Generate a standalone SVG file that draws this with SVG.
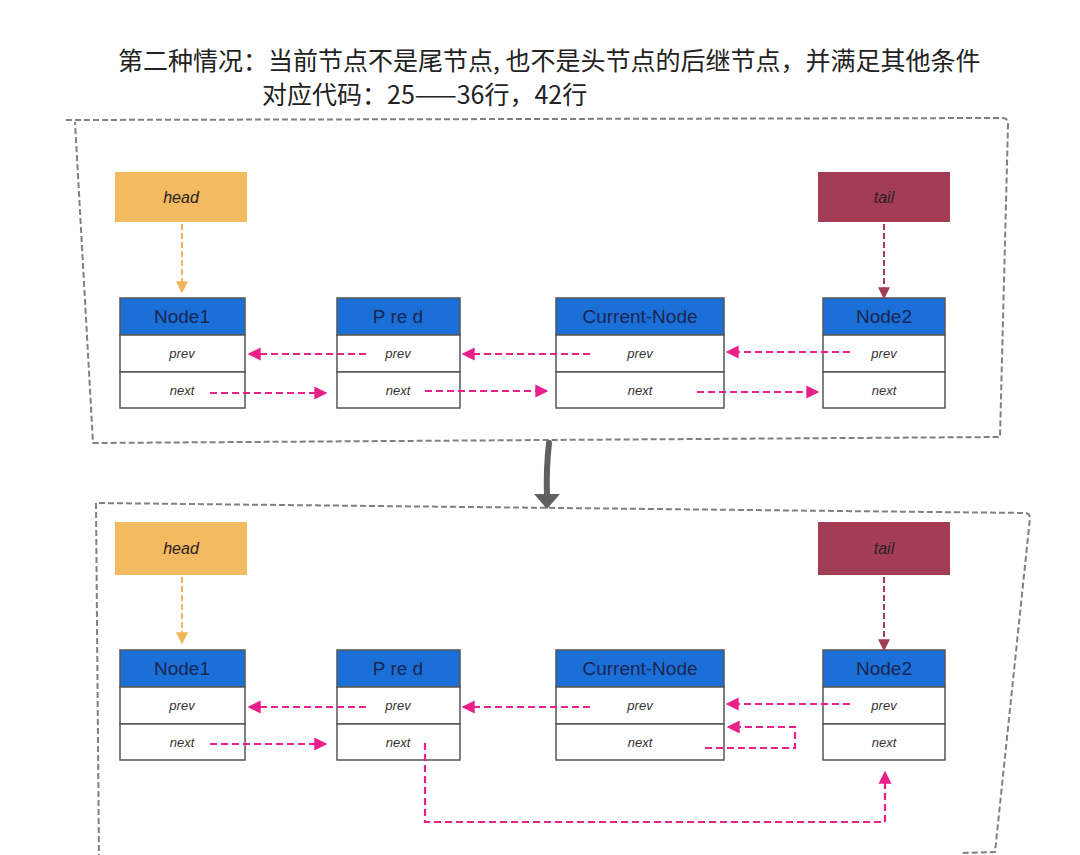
<svg xmlns="http://www.w3.org/2000/svg" width="1080" height="855" viewBox="0 0 1080 855">
<defs>
<style>
.frame{fill:none;stroke:#808080;stroke-width:2;stroke-dasharray:6 3}
.hdr{fill:#1b6fd9;stroke:#555;stroke-width:1.5}
.cell{fill:#fff;stroke:#555;stroke-width:1.5}
.nt{font-family:"Liberation Sans",sans-serif;font-size:19px;fill:#1a2550;text-anchor:middle}
.ft{font-family:"Liberation Sans",sans-serif;font-size:13px;font-style:italic;fill:#333;text-anchor:middle}
.pt{font-family:"Liberation Sans",sans-serif;font-size:16px;font-style:italic;fill:#2a2020;text-anchor:middle}
.title{font-family:"Noto Sans CJK SC",sans-serif;font-size:25px;fill:#222}
.pk{fill:none;stroke:#e8208a;stroke-width:2.2;stroke-dasharray:7 4;marker-end:url(#pa)}
.hd{fill:none;stroke:#f0b458;stroke-width:2;stroke-dasharray:6 3;marker-end:url(#ha)}
.tl{fill:none;stroke:#a23d55;stroke-width:2;stroke-dasharray:6 3;marker-end:url(#ta)}
</style>
<marker id="pa" viewBox="0 0 10 10" refX="9" refY="5" markerWidth="13" markerHeight="15" markerUnits="userSpaceOnUse" orient="auto"><path d="M0,0 L10,5 L0,10 Z" fill="#e8208a"/></marker>
<marker id="ha" viewBox="0 0 10 10" refX="9" refY="5" markerWidth="12" markerHeight="16" markerUnits="userSpaceOnUse" orient="auto"><path d="M0,0 L10,5 L0,10 Z" fill="#f0b458"/></marker>
<marker id="ta" viewBox="0 0 10 10" refX="9" refY="5" markerWidth="12" markerHeight="16" markerUnits="userSpaceOnUse" orient="auto"><path d="M0,0 L10,5 L0,10 Z" fill="#a23d55"/></marker>
</defs>
<rect width="1080" height="855" fill="#fff"/>
<g id="title">
<text class="title" x="118" y="70">第二种情况：当前节点不是尾节点, 也不是头节点的后继节点，并满足其他条件</text>
<text class="title" x="262" y="104">对应代码：25——36行，42行</text>
</g>
<g id="frames">
<path class="frame" d="M66,120 L1003,118 Q1008,118 1008,125 L1000,437 L93,443 L75,122"/>
<path class="frame" d="M99,860 L96,503 L1026,513 Q1030,514 1030,518 L995,852 L960,853"/>
</g>
<g id="step-arrow"><path d="M549,443 Q546,470 547,496" stroke="#606060" stroke-width="6" fill="none" stroke-linecap="round"/><path d="M534,494 L560,494 L547,509 Z" fill="#606060"/></g>

<g id="head1"><rect x="115" y="172" width="132" height="50" fill="#f2bb62"/><text class="pt" x="181" y="203">head</text></g>
<g id="tail1"><rect x="818" y="172" width="132" height="50" fill="#a23d55"/><text class="pt" x="884" y="203">tail</text></g>
<g id="node1-a"><rect class="hdr" x="120" y="298" width="125" height="37"/><rect class="cell" x="120" y="335" width="125" height="37"/><rect class="cell" x="120" y="372" width="125" height="36"/><text class="nt" x="182" y="323">Node1</text><text class="ft" x="182" y="358">prev</text><text class="ft" x="182" y="395">next</text></g>
<g id="pred-a"><rect class="hdr" x="337" y="298" width="123" height="37"/><rect class="cell" x="337" y="335" width="123" height="37"/><rect class="cell" x="337" y="372" width="123" height="36"/><text class="nt" x="398" y="323">P re d</text><text class="ft" x="398" y="358">prev</text><text class="ft" x="398" y="395">next</text></g>
<g id="current-a"><rect class="hdr" x="556" y="298" width="168" height="37"/><rect class="cell" x="556" y="335" width="168" height="37"/><rect class="cell" x="556" y="372" width="168" height="36"/><text class="nt" x="640" y="323">Current-Node</text><text class="ft" x="640" y="358">prev</text><text class="ft" x="640" y="395">next</text></g>
<g id="node2-a"><rect class="hdr" x="823" y="298" width="122" height="37"/><rect class="cell" x="823" y="335" width="122" height="37"/><rect class="cell" x="823" y="372" width="122" height="36"/><text class="nt" x="884" y="323">Node2</text><text class="ft" x="884" y="358">prev</text><text class="ft" x="884" y="395">next</text></g>

<g id="head2"><rect x="115" y="522" width="132" height="53" fill="#f2bb62"/><text class="pt" x="181" y="554">head</text></g>
<g id="tail2"><rect x="818" y="522" width="132" height="53" fill="#a23d55"/><text class="pt" x="884" y="554">tail</text></g>
<g id="node1-b"><rect class="hdr" x="120" y="650" width="125" height="37"/><rect class="cell" x="120" y="687" width="125" height="37"/><rect class="cell" x="120" y="724" width="125" height="36"/><text class="nt" x="182" y="675">Node1</text><text class="ft" x="182" y="710">prev</text><text class="ft" x="182" y="747">next</text></g>
<g id="pred-b"><rect class="hdr" x="337" y="650" width="123" height="37"/><rect class="cell" x="337" y="687" width="123" height="37"/><rect class="cell" x="337" y="724" width="123" height="36"/><text class="nt" x="398" y="675">P re d</text><text class="ft" x="398" y="710">prev</text><text class="ft" x="398" y="747">next</text></g>
<g id="current-b"><rect class="hdr" x="556" y="650" width="168" height="37"/><rect class="cell" x="556" y="687" width="168" height="37"/><rect class="cell" x="556" y="724" width="168" height="36"/><text class="nt" x="640" y="675">Current-Node</text><text class="ft" x="640" y="710">prev</text><text class="ft" x="640" y="747">next</text></g>
<g id="node2-b"><rect class="hdr" x="823" y="650" width="122" height="37"/><rect class="cell" x="823" y="687" width="122" height="37"/><rect class="cell" x="823" y="724" width="122" height="36"/><text class="nt" x="884" y="675">Node2</text><text class="ft" x="884" y="710">prev</text><text class="ft" x="884" y="747">next</text></g>

<g id="connectors">
<path class="hd" d="M182,224 L182,292"/>
<path class="tl" d="M884,224 L884,298"/>
<path class="pk" d="M366,354 L249,354"/>
<path class="pk" d="M590,354 L463,354"/>
<path class="pk" d="M850,352 L727,352"/>
<path class="pk" d="M210,393 L326,393"/>
<path class="pk" d="M425,391 L547,391"/>
<path class="pk" d="M697,392 L818,392"/>

<path class="hd" d="M182,577 L182,643"/>
<path class="tl" d="M884,577 L884,650"/>
<path class="pk" d="M366,707 L249,707"/>
<path class="pk" d="M590,707 L463,707"/>
<path class="pk" d="M850,704 L727,704"/>
<path class="pk" d="M210,744 L326,744"/>
<path class="pk" d="M705,748 L795,748 L795,727 L728,727"/>
<path class="pk" d="M425,743 L425,822 L885,822 L885,772"/>
</g>
</svg>
